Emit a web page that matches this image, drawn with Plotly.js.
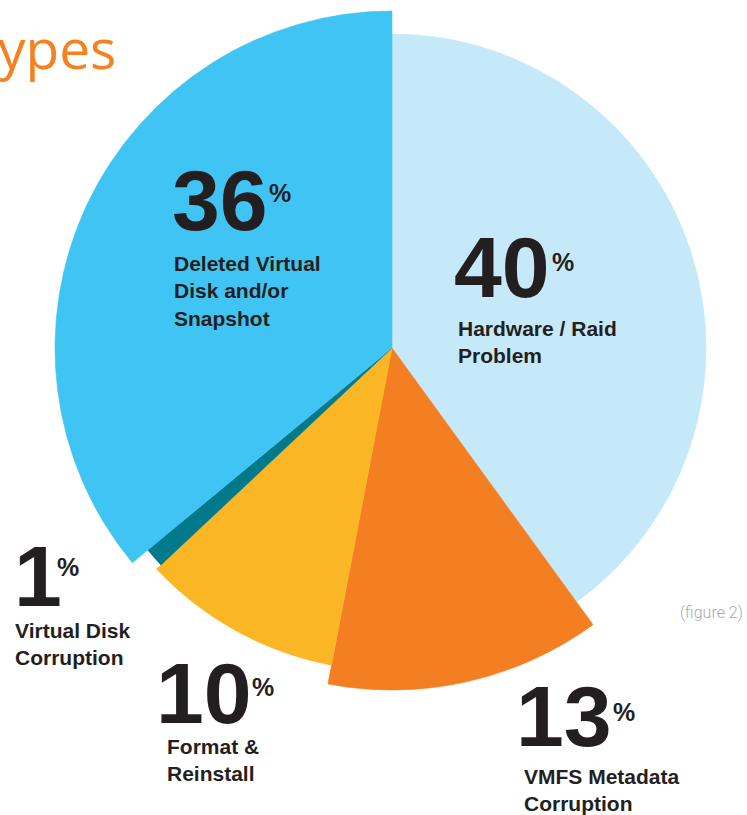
<!DOCTYPE html>
<html>
<head>
<meta charset="utf-8">
<script src="https://cdn.plot.ly/plotly-3.0.1.min.js"></script>
<style>html,body{margin:0;padding:0;background:#fff;}#chart{width:747px;height:815px;}</style>
</head>
<body>
<div id="chart"></div>
<script>
// ---- data (clockwise from 12 o'clock) ----
const categories = ["Hardware / Raid<br>Problem", "VMFS Metadata<br>Corruption", "Format &amp;<br>Reinstall", "Virtual Disk<br>Corruption", "Deleted Virtual<br>Disk and/or<br>Snapshot"];
const percents = [40, 13, 10, 1, 36];
const titleText = "ypes";
const noteText = "(figure 2)";

// ---- styles ----
const sliceColors = ["#C6E9F9", "#F47E22", "#FBB626", "#00798A", "#40C4F3"];
const sliceRadius = [314, 342, 323, 317, 337];
// label placement in pixels: [numLeft, numCapTop, pctLeft, pctTop, labelLeft, labelCapTop]
const labelPos = [
  [452, 234, 550, 252, 456, 320],
  [514, 683, 611, 702, 522, 768],
  [154, 660, 250, 677, 165, 738],
  [12, 543, 55, 557, 13, 622],
  [170, 167, 267, 183, 172, 255]
];

const W = 747, H = 815, CX = 392, CY = 348, RMAX = 343;
const total = percents.reduce((a, b) => a + b, 0);
let cum = 0;
const theta = [], widths = [];
percents.forEach(p => {
  const w = p / total * 360;
  theta.push(cum + w / 2);
  widths.push(w);
  cum += w;
});

const trace = {
  type: "barpolar",
  r: sliceRadius,
  theta: theta,
  width: widths,
  marker: {color: sliceColors, line: {color: sliceColors, width: 0.6}},
  hoverinfo: "skip"
};

const FONT = "Liberation Sans, Arial, sans-serif";
const ink = "#231f20";
const annotations = [];
function px(x) { return x / W; }
function py(y) { return 1 - y / H; }
function addText(text, left, capTop, size, color, family) {
  annotations.push({
    xref: "paper", yref: "paper", x: px(left), y: py(capTop - 1 - 0.19 * size),
    xanchor: "left", yanchor: "top", align: "left", showarrow: false,
    text: text, font: {family: family || FONT, size: size, color: color || ink, weight: 700}
  });
}
percents.forEach((p, i) => {
  const q = labelPos[i];
  addText("<b>" + p + "</b>", q[0], q[1], 86);
  addText("<b>%</b>", q[2], q[3], 25);
  addText("<b>" + categories[i] + "</b>", q[4], q[5], 21);
});
// title fragment (cut off at left edge in the reference)
annotations.push({
  xref: "paper", yref: "paper", x: px(-4), y: py(87), xanchor: "left", yanchor: "bottom",
  showarrow: false, text: titleText, font: {family: "Open Sans, sans-serif", size: 55, color: "#F58220"}
});
annotations.push({
  xref: "paper", yref: "paper", x: px(745), y: py(612), xanchor: "right", yanchor: "middle",
  showarrow: false, text: noteText, font: {family: "Roboto, sans-serif", size: 16, color: "#A7A9AC", weight: 300}
});

const layout = {
  width: W, height: H,
  margin: {l: 0, r: 0, t: 0, b: 0},
  paper_bgcolor: "#ffffff",
  showlegend: false,
  polar: {
    domain: {x: [(CX - RMAX) / W, (CX + RMAX) / W], y: [(H - CY - RMAX) / H, (H - CY + RMAX) / H]},
    bgcolor: "rgba(0,0,0,0)",
    bargap: 0,
    hole: 0,
    radialaxis: {visible: false, range: [0, RMAX]},
    angularaxis: {visible: false, direction: "clockwise", rotation: 90, thetaunit: "degrees"}
  },
  annotations: annotations
};

Plotly.newPlot("chart", [trace], layout, {displayModeBar: false, staticPlot: true});
</script>
</body>
</html>
